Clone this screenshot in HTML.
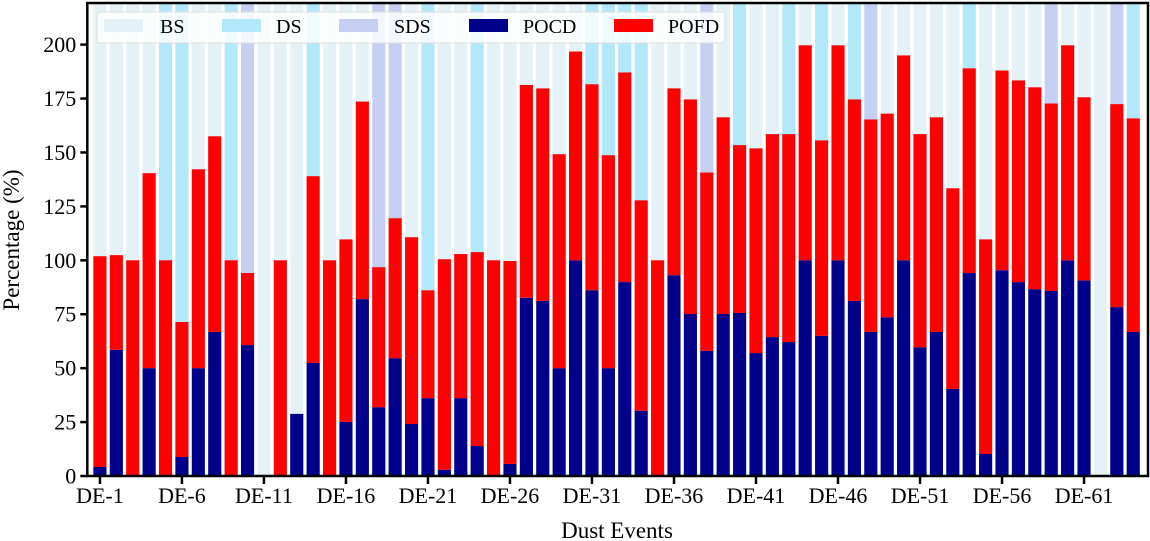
<!DOCTYPE html>
<html><head><meta charset="utf-8"><style>
html,body{margin:0;padding:0;background:#fff;}
svg{display:block;font-family:"Liberation Serif",serif;}
</style></head><body>
<svg id="chart" width="1150" height="541" viewBox="0 0 1150 541" xmlns="http://www.w3.org/2000/svg">
<g id="bg"></g>
<g id="bars"></g>
<g id="axes"></g>
<text x="0" y="0" transform="translate(19,240) rotate(-90)" text-anchor="middle" font-size="23">Percentage (%)</text>
<text x="617" y="538" text-anchor="middle" font-size="23">Dust Events</text>
<g id="legend"></g>
</svg>
<script>
const eventTypes = ["BS","BS","BS","BS","DS","DS","BS","BS","DS","SDS","BS","BS","BS","DS","BS","BS","BS","SDS","SDS","BS","DS","BS","BS","DS","BS","BS","BS","BS","BS","BS","DS","DS","DS","DS","BS","BS","BS","SDS","BS","DS","BS","BS","DS","BS","DS","BS","DS","SDS","BS","BS","BS","BS","BS","DS","BS","BS","BS","BS","SDS","BS","BS","BS","SDS","DS"];
const pocd = [4.2,58.5,0,50,0,8.8,50,66.8,0,60.7,0,0,28.8,52.4,0,25.1,82,31.9,54.6,24.1,36.1,2.9,36.1,13.9,0,5.6,82.6,81.2,50,100,86.1,50,89.9,30.2,0,93.1,75.1,58,75.1,75.6,57,64.4,62.1,100,65,100,81.2,66.8,73.6,100,59.7,66.8,40.4,94.1,10.2,95.4,89.9,86.6,85.8,100,90.7,0,78.3,66.8];
const pofd = [97.7,43.9,100,90.4,100,62.6,92.2,90.7,100,33.4,0,100,0,86.6,100,84.6,91.6,64.9,64.9,86.6,50,97.6,66.8,89.9,100,94.1,98.7,98.5,99.2,96.8,95.5,98.7,97.2,97.6,100,86.6,99.5,82.7,91.2,77.8,94.9,94.1,96.4,99.7,90.6,99.7,93.4,98.5,94.4,95,98.8,99.5,93,94.9,99.5,92.6,93.5,93.6,86.9,99.7,84.9,0,94.1,99];
const yTicks = [0,25,50,75,100,125,150,175,200];
const xTickIdx = [0,5,10,15,20,25,30,35,40,45,50,55,60];
const typeColors = {BS:"#e4f2f7",DS:"#b3e8fb",SDS:"#c5cff2"};

const L=87.3,R=1148,T=3,B=476;
const xmin=-0.77,xmax=63.9,ymin=0,ymax=219.3;
const xs=i=>L+(i-xmin)/(xmax-xmin)*(R-L);
const ys=v=>B-(v-ymin)/(ymax-ymin)*(B-T);
const bw=0.8*(R-L)/(xmax-xmin);
const NS="http://www.w3.org/2000/svg";
function mk(tag,attrs,parent){const e=document.createElementNS(NS,tag);for(const k in attrs)e.setAttribute(k,attrs[k]);parent.appendChild(e);return e;}
const bg=document.getElementById('bg'),bars=document.getElementById('bars'),axes=document.getElementById('axes'),lg=document.getElementById('legend');
eventTypes.forEach((t,i)=>{
  const r=mk('rect',{x:xs(i)-bw/2,y:T,width:bw,height:B-T,fill:typeColors[t]},bg);
  
  
});
pocd.forEach((v,i)=>{
  if(v>0){const r=mk('rect',{x:xs(i)-bw/2,y:ys(v),width:bw,height:B-ys(v),fill:"#00008b"},bars);
  
  }
  const f=pofd[i];
  if(f>0){const r2=mk('rect',{x:xs(i)-bw/2,y:ys(v+f),width:bw,height:ys(v)-ys(v+f),fill:"#ff0000"},bars);
  
  }
});
mk('rect',{x:L,y:T,width:R-L,height:B-T,fill:"none",stroke:"#000","stroke-width":2.5},axes);
yTicks.forEach(v=>{
  mk('line',{x1:L-7,x2:L,y1:ys(v),y2:ys(v),stroke:"#000","stroke-width":2.5},axes);
  const t=mk('text',{x:L-11,y:ys(v)+7.5,"text-anchor":"end","font-size":"22"},axes);t.textContent=v;
  
  
});
xTickIdx.forEach(i=>{
  mk('line',{x1:xs(i),x2:xs(i),y1:B,y2:B+8,stroke:"#000","stroke-width":2.5},axes);
  const t=mk('text',{x:xs(i),y:B+27,"text-anchor":"middle","font-size":"22"},axes);t.textContent='DE-'+(i+1);
  
  
});
mk('rect',{x:97,y:12,width:628,height:31,rx:3,fill:"#fff","fill-opacity":0.8,stroke:"#ddd","stroke-width":1},lg);
const legItems=[["BS",typeColors.BS,104,160],["DS",typeColors.DS,222,276],["SDS",typeColors.SDS,339,394],["POCD","#00008b",469,523],["POFD","#ff0000",614,668]];
legItems.forEach(([n,c,px,tx])=>{
  const g=mk('g',{},lg);
  
  
  mk('rect',{x:px,y:19,width:39,height:13,fill:c},g);
  const t=mk('text',{x:tx,y:33,"font-size":"20"},g);t.textContent=n;
});
</script>
</body></html>
